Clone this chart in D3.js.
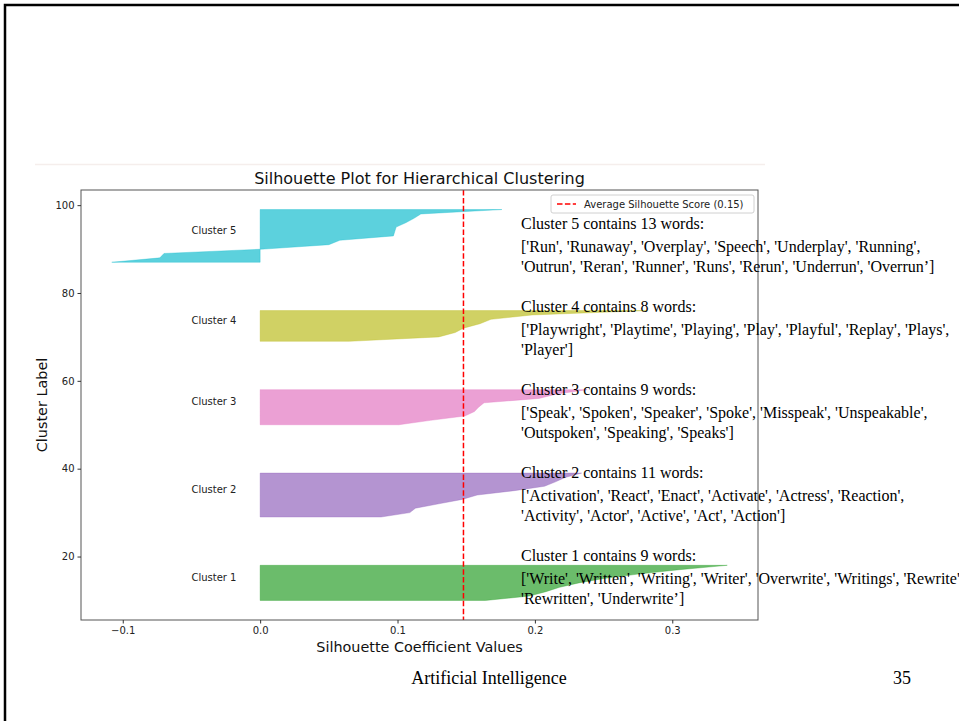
<!DOCTYPE html>
<html>
<head>
<meta charset="utf-8">
<script src="https://cdn.jsdelivr.net/npm/d3@7"></script>
<style>
  body { margin: 0; background: #fff; overflow: hidden; }
  svg { display: block; }
</style>
</head>
<body>
<svg id="slide" width="959" height="721"></svg>
<script>
// Clusters, drawn bottom to top
const clusterIds = [1, 2, 3, 4, 5];

// Sorted silhouette coefficients, one per word
const silhouette1 = [0.164, 0.196, 0.208, 0.218, 0.232, 0.250, 0.275, 0.305, 0.340];
const silhouette2 = [0.088, 0.109, 0.113, 0.130, 0.147, 0.158, 0.185, 0.207, 0.215, 0.222, 0.234];
const silhouette3 = [0.101, 0.124, 0.149, 0.156, 0.159, 0.163, 0.203, 0.216, 0.238];
const silhouette4 = [0.065, 0.130, 0.142, 0.148, 0.160, 0.168, 0.198, 0.282];
const silhouette5 = [-0.108, -0.073, -0.070, 0.003, 0.050, 0.058, 0.097, 0.098, 0.099, 0.106, 0.112, 0.117, 0.176];

// Words belonging to each cluster
const words1 = ["Write", "Written", "Writing", "Writer", "Overwrite", "Writings", "Rewrite", "Rewritten", "Underwrite"];
const words2 = ["Activation", "React", "Enact", "Activate", "Actress", "Reaction", "Activity", "Actor", "Active", "Act", "Action"];
const words3 = ["Speak", "Spoken", "Speaker", "Spoke", "Misspeak", "Unspeakable", "Outspoken", "Speaking", "Speaks"];
const words4 = ["Playwright", "Playtime", "Playing", "Play", "Playful", "Replay", "Plays", "Player"];
const words5 = ["Run", "Runaway", "Overplay", "Speech", "Underplay", "Running", "Outrun", "Reran", "Runner", "Runs", "Rerun", "Underrun", "Overrun"];

// How many words go on the first line of each list, and the final closing quote
const firstLineCount = [7, 6, 6, 7, 6];
const closingQuote = ["\u2019", "'", "'", "'", "\u2019"];

const avgScore = 0.148;
const xTicks = [-0.1, 0.0, 0.1, 0.2, 0.3];
const yTicks = [20, 40, 60, 80, 100];
const clusterColors = ["#2ca02c", "#9467bd", "#e377c2", "#bcbd22", "#17becf"];

const silhouettes = [silhouette1, silhouette2, silhouette3, silhouette4, silhouette5];
const wordLists = [words1, words2, words3, words4, words5];

// Stack the clusters vertically with a gap of 10 between them
let yLower = 10;
const clusters = clusterIds.map((id, i) => {
  const vals = silhouettes[i];
  const c = { id, vals, lower: yLower, color: clusterColors[i], words: wordLists[i], idx: i };
  yLower += vals.length + 10;
  return c;
});

const svg = d3.select("#slide");
const font = "'DejaVu Sans', sans-serif";
const serif = "'Liberation Serif', 'Times New Roman', serif";

// Slide frame
svg.append("rect").attr("x", 5).attr("y", 5).attr("width", 1200).attr("height", 1200)
  .attr("fill", "none").attr("stroke", "#000").attr("stroke-width", 2.5);
svg.append("line").attr("x1", 35).attr("x2", 765).attr("y1", 164.5).attr("y2", 164.5)
  .attr("stroke", "#f5eeec").attr("stroke-width", 1.5);

// Plot area
const plot = { left: 81, right: 758, top: 190, bottom: 620 };

const allVals = silhouettes.flat();
const xMin = d3.min(allVals), xMax = d3.max(allVals);
const xPad = (xMax - xMin) * 0.05;
const yMin = clusters[0].lower, yMax = clusters[4].lower + clusters[4].vals.length - 1;
const yPad = (yMax - yMin) * 0.05;

const x = d3.scaleLinear().domain([xMin - xPad, xMax + xPad]).range([plot.left, plot.right]);
const y = d3.scaleLinear().domain([yMin - yPad, yMax + yPad]).range([plot.bottom, plot.top]);

const g = svg.append("g");

// Silhouette fills between 0 and each coefficient
const area = d3.area()
  .y(d => y(d.y))
  .x0(x(0))
  .x1(d => x(d.v));

clusters.forEach(c => {
  const pts = c.vals.map((v, k) => ({ y: c.lower + k, v }));
  g.append("path")
    .attr("d", area(pts))
    .attr("fill", c.color)
    .attr("fill-opacity", 0.7)
    .attr("stroke", c.color)
    .attr("stroke-opacity", 0.7)
    .attr("stroke-width", 0.5);
  g.append("text")
    .attr("x", x(-0.05))
    .attr("y", y(c.lower + 0.5 * c.vals.length))
    .attr("font-family", font).attr("font-size", 10).attr("fill", "#222")
    .text(`Cluster ${c.id}`);
});

// Average score line
g.append("line")
  .attr("x1", x(avgScore)).attr("x2", x(avgScore))
  .attr("y1", plot.top).attr("y2", plot.bottom)
  .attr("stroke", "red").attr("stroke-width", 1.5)
  .attr("stroke-dasharray", "5.5,2.4");

// Frame
g.append("rect")
  .attr("x", plot.left).attr("y", plot.top)
  .attr("width", plot.right - plot.left).attr("height", plot.bottom - plot.top)
  .attr("fill", "none").attr("stroke", "#555").attr("stroke-width", 1);

// Axes
const xAxis = g.append("g").attr("transform", `translate(0,${plot.bottom})`)
  .call(d3.axisBottom(x).tickValues(xTicks).tickFormat(d3.format(".1f")).tickSize(3.5).tickPadding(3));
const yAxis = g.append("g").attr("transform", `translate(${plot.left},0)`)
  .call(d3.axisLeft(y).tickValues(yTicks).tickSize(3.5).tickPadding(3));
[xAxis, yAxis].forEach(a => {
  a.select(".domain").remove();
  a.selectAll(".tick line").attr("stroke", "#333");
  a.selectAll(".tick text").attr("font-family", font).attr("font-size", 10).attr("fill", "#222");
});

// Titles
g.append("text").attr("x", (plot.left + plot.right) / 2).attr("y", 184)
  .attr("text-anchor", "middle").attr("font-family", font).attr("font-size", 16).attr("fill", "#111")
  .text("Silhouette Plot for Hierarchical Clustering");
g.append("text").attr("x", (plot.left + plot.right) / 2).attr("y", 652)
  .attr("text-anchor", "middle").attr("font-family", font).attr("font-size", 14.4).attr("fill", "#111")
  .text("Silhouette Coefficient Values");
g.append("text")
  .attr("transform", `translate(47,${(plot.top + plot.bottom) / 2}) rotate(-90)`)
  .attr("text-anchor", "middle").attr("font-family", font).attr("font-size", 14.4).attr("fill", "#111")
  .text("Cluster Label");

// Legend
const leg = g.append("g").attr("transform", `translate(${plot.right - 207},${plot.top + 5})`);
leg.append("rect").attr("width", 203).attr("height", 18).attr("rx", 2)
  .attr("fill", "#fff").attr("fill-opacity", 0.8).attr("stroke", "#d0d0d0");
leg.append("line").attr("x1", 6).attr("x2", 25).attr("y1", 9).attr("y2", 9)
  .attr("stroke", "red").attr("stroke-width", 1.5).attr("stroke-dasharray", "5.5,2.4");
leg.append("text").attr("x", 33).attr("y", 12.8)
  .attr("font-family", font).attr("font-size", 10).attr("fill", "#222")
  .text(`Average Silhouette Score (${d3.format(".2f")(avgScore)})`);

// Word lists per cluster
const notes = svg.append("g").attr("font-family", serif).attr("font-size", 16).attr("fill", "#000");
clusters.forEach(c => {
  const base = 229 + 83 * (4 - c.idx);
  const n = firstLineCount[c.idx];
  const q = c.words.map((w, k) => k === c.words.length - 1 ? `'${w}${closingQuote[c.idx]}` : `'${w}'`);
  notes.append("text").attr("x", 521).attr("y", base)
    .text(`Cluster ${c.id} contains ${c.words.length} words:`);
  notes.append("text").attr("x", 521).attr("y", base + 23)
    .text("[" + q.slice(0, n).join(", ") + ",");
  notes.append("text").attr("x", 521).attr("y", base + 43)
    .text(q.slice(n).join(", ") + "]");
});

// Footer
svg.append("text").attr("x", 489).attr("y", 684).attr("text-anchor", "middle")
  .attr("font-family", serif).attr("font-size", 18).attr("fill", "#000")
  .text("Artificial Intelligence");
svg.append("text").attr("x", 893).attr("y", 684)
  .attr("font-family", serif).attr("font-size", 18).attr("fill", "#000")
  .text("35");
</script>
</body>
</html>
